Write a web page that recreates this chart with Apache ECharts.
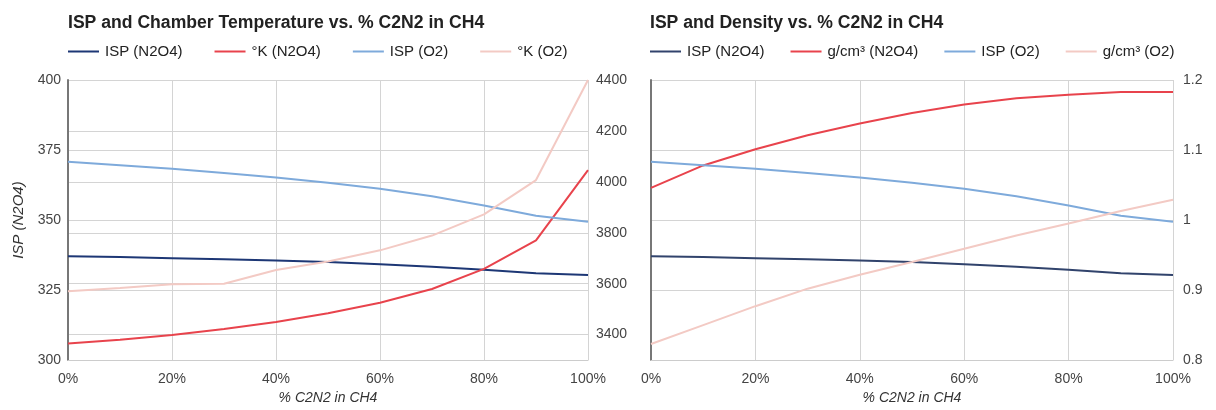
<!DOCTYPE html>
<html>
<head>
<meta charset="utf-8">
<script src="https://cdn.jsdelivr.net/npm/echarts@6/dist/echarts.min.js"></script>
<style>
html,body{margin:0;padding:0;background:#fff;}
#c{width:1216px;height:410px;}
</style>
</head>
<body>
<div id="c"></div>
<script>
const pct = [0, 10, 20, 30, 40, 50, 60, 70, 80, 90, 100];
const ispN2O4 = [337.1, 336.8, 336.4, 336.0, 335.6, 335.0, 334.2, 333.3, 332.3, 331.0, 330.4];
const ispO2 = [370.8, 369.6, 368.3, 366.8, 365.2, 363.3, 361.2, 358.5, 355.2, 351.5, 349.4];
const tempN2O4 = [3365, 3380, 3399, 3422, 3450, 3484, 3525, 3579, 3658, 3770, 4046];
const tempO2 = [3570, 3583, 3598, 3600, 3654, 3687, 3731, 3789, 3872, 4007, 4400];
const densN2O4 = [1.046, 1.078, 1.101, 1.121, 1.138, 1.153, 1.165, 1.174, 1.179, 1.183, 1.183];
const densO2 = [0.823, 0.850, 0.877, 0.902, 0.922, 0.940, 0.959, 0.978, 0.995, 1.013, 1.029];

const titleLeft = 'ISP and Chamber Temperature vs. % C2N2 in CH4';
const titleRight = 'ISP and Density vs. % C2N2 in CH4';
const namesLeft = ['ISP (N2O4)', '°K (N2O4)', 'ISP (O2)', '°K (O2)'];
const namesRight = ['ISP (N2O4)', 'g/cm³ (N2O4)', 'ISP (O2)', 'g/cm³ (O2)'];
const xTitle = '% C2N2 in CH4';
const yTitle = 'ISP (N2O4)';

const C_ISPN = '#1d3775', C_TN = '#e8434c', C_ISPO = '#7eaadb', C_TO = '#f3cac4';
const C_ISPN_R = '#31436c';
const colorsLeft = [C_ISPN, C_TN, C_ISPO, C_TO];
const colorsRight = [C_ISPN_R, C_TN, C_ISPO, C_TO];
const FONT = 'Liberation Sans, Arial, sans-serif';
const pairs = (ys) => pct.map((x, i) => [x, ys[i]]);

const chart = echarts.init(document.getElementById('c'), null, {renderer: 'canvas'});

function xAxisCfg(gi) {
  return {
    type: 'value', gridIndex: gi, min: 0, max: 100, interval: 20,
    name: xTitle, nameLocation: 'middle', nameGap: 30,
    nameTextStyle: {fontFamily: FONT, fontSize: 14, fontStyle: 'italic', color: '#333'},
    axisLine: {show: true, lineStyle: {color: '#cccccc', width: 1}},
    axisTick: {show: false},
    axisLabel: {formatter: '{value}%', fontFamily: FONT, fontSize: 14, color: '#444', margin: 12},
    splitLine: {show: true, lineStyle: {color: '#d4d4d4', width: 1}}
  };
}

function legendCfg(names, colors, left, gap) {
  return {data: names.map((n, i) => ({name: n, itemStyle: {color: colors[i]}})), left: left, top: 39,
    itemWidth: 31, itemHeight: 2, icon: 'rect', itemGap: gap,
    textStyle: {fontFamily: FONT, fontSize: 15, color: '#222', padding: [0, 0, 0, 1]}};
}

const option = {
  animation: false,
  backgroundColor: '#fff',
  textStyle: {fontFamily: FONT},
  title: [
    {text: titleLeft, left: 63, top: 9, textStyle: {fontFamily: FONT, fontSize: 17.6, fontWeight: 'bold', color: '#222'}},
    {text: titleRight, left: 645, top: 9, textStyle: {fontFamily: FONT, fontSize: 17.6, fontWeight: 'bold', color: '#222'}}
  ],
  legend: [legendCfg(namesLeft, colorsLeft, 63, 32), legendCfg(namesRight, colorsRight, 645, 26)],
  grid: [
    {left: 68, top: 80, width: 520, height: 285},
    {left: 651, top: 80, width: 522, height: 285}
  ],
  xAxis: [xAxisCfg(0), xAxisCfg(1)],
  yAxis: [
    {type: 'value', gridIndex: 0, min: 300, max: 400, interval: 25, position: 'left',
      name: yTitle, nameLocation: 'middle', nameGap: 42,
      nameTextStyle: {fontFamily: FONT, fontSize: 15, fontStyle: 'italic', color: '#333'},
      axisLine: {show: true, lineStyle: {color: '#777', width: 2}}, axisTick: {show: false},
      axisLabel: {fontFamily: FONT, fontSize: 14, color: '#444', margin: 7},
      splitLine: {show: true, lineStyle: {color: '#d4d4d4'}}},
    {type: 'value', gridIndex: 0, min: 3300, max: 4400, interval: 100, position: 'right',
      axisLine: {show: false}, axisTick: {show: false},
      axisLabel: {fontFamily: FONT, fontSize: 14, color: '#444', margin: 8,
        formatter: (v) => (Math.round(v) % 200 === 0 ? String(Math.round(v)) : '')},
      splitLine: {show: true, lineStyle: {color: ['rgba(0,0,0,0)', '#d4d4d4']}}},
    {type: 'value', gridIndex: 1, min: 300, max: 400, interval: 25, position: 'left',
      axisLine: {show: true, lineStyle: {color: '#777', width: 2}}, axisTick: {show: false},
      axisLabel: {show: false}, splitLine: {show: false}},
    {type: 'value', gridIndex: 1, min: 0.8, max: 1.2, interval: 0.1, position: 'right',
      axisLine: {show: false}, axisTick: {show: false},
      axisLabel: {fontFamily: FONT, fontSize: 14, color: '#444', margin: 10},
      splitLine: {show: true, lineStyle: {color: '#d4d4d4'}}}
  ],
  series: [
    {name: namesLeft[0], type: 'line', xAxisIndex: 0, yAxisIndex: 0, data: pairs(ispN2O4), color: C_ISPN},
    {name: namesLeft[1], type: 'line', xAxisIndex: 0, yAxisIndex: 1, data: pairs(tempN2O4), color: C_TN},
    {name: namesLeft[2], type: 'line', xAxisIndex: 0, yAxisIndex: 0, data: pairs(ispO2), color: C_ISPO},
    {name: namesLeft[3], type: 'line', xAxisIndex: 0, yAxisIndex: 1, data: pairs(tempO2), color: C_TO},
    {name: namesRight[0], type: 'line', xAxisIndex: 1, yAxisIndex: 2, data: pairs(ispN2O4), color: C_ISPN_R},
    {name: namesRight[1], type: 'line', xAxisIndex: 1, yAxisIndex: 3, data: pairs(densN2O4), color: C_TN},
    {name: namesRight[2], type: 'line', xAxisIndex: 1, yAxisIndex: 2, data: pairs(ispO2), color: C_ISPO},
    {name: namesRight[3], type: 'line', xAxisIndex: 1, yAxisIndex: 3, data: pairs(densO2), color: C_TO}
  ].map(s => Object.assign(s, {showSymbol: false, symbol: 'none', lineStyle: {width: 2}, z: 3, silent: true}))
};
chart.setOption(option);
</script>
</body>
</html>
